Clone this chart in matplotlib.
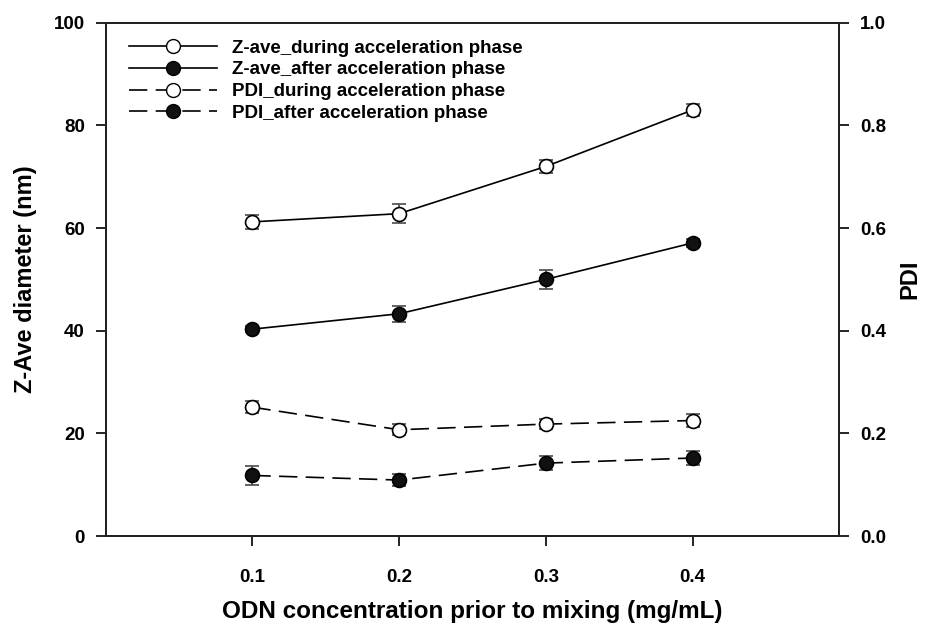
import matplotlib
matplotlib.use("Agg")
import matplotlib.pyplot as plt
from matplotlib.lines import Line2D

plt.rcParams['font.family'] = ['Liberation Sans', 'DejaVu Sans']
plt.rcParams['font.weight'] = 'bold'

# ODN concentration prior to mixing (mg/mL)
conc = [0.1, 0.2, 0.3, 0.4]

# Z-average diameter (nm)
zave_during = [61.2, 62.8, 72.0, 83.0]
zave_during_err = [1.4, 1.9, 1.3, 1.1]
zave_after = [40.3, 43.3, 50.0, 57.1]
zave_after_err = [0.6, 1.6, 1.9, 0.7]

# Polydispersity index
pdi_during = [0.251, 0.207, 0.218, 0.225]
pdi_during_err = [0.012, 0.011, 0.010, 0.013]
pdi_after = [0.118, 0.109, 0.142, 0.152]
pdi_after_err = [0.019, 0.011, 0.014, 0.013]

labels = ["Z-ave_during acceleration phase",
          "Z-ave_after acceleration phase",
          "PDI_during acceleration phase",
          "PDI_after acceleration phase"]

fig = plt.figure(figsize=(9.27, 6.24), dpi=100)
ax = fig.add_axes([0.114, 0.141, 0.7914, 0.8226])
ax2 = ax.twinx()

err_kw = dict(ecolor='#4a4a4a', elinewidth=1.2, capsize=5, capthick=1.8)
line_kw = dict(color='black', lw=1.2, marker='o', ms=10, mec='black', mew=1.2)
dash = (0, (11, 5))

ax.errorbar(conc, zave_during, yerr=zave_during_err, mfc='white', **line_kw, **err_kw, zorder=3)
ax.errorbar(conc, zave_after, yerr=zave_after_err, mfc='#111111', **line_kw, **err_kw, zorder=3)
ax2.errorbar(conc, pdi_during, yerr=pdi_during_err, mfc='white', ls=dash, **line_kw, **err_kw, zorder=3)
ax2.errorbar(conc, pdi_after, yerr=pdi_after_err, mfc='#111111', ls=dash, **line_kw, **err_kw, zorder=3)

ax.set_xlim(0, 0.5)
ax.set_ylim(0, 100)
ax2.set_ylim(0, 1.0)
ax.set_xticks(conc)
ax.set_xticklabels(["0.1", "0.2", "0.3", "0.4"])
ax.set_yticks([0, 20, 40, 60, 80, 100])
ax2.set_yticks([0.0, 0.2, 0.4, 0.6, 0.8, 1.0])
ax2.set_yticklabels(["0.0", "0.2", "0.4", "0.6", "0.8", "1.0"])

for a in (ax, ax2):
    for s in a.spines.values():
        s.set_linewidth(1.4)
        s.set_color('#222222')

ax.tick_params(axis='x', direction='out', length=7, width=1.2, pad=17, labelsize=13.5)
ax.tick_params(axis='y', direction='out', length=7, width=1.2, pad=8, labelsize=13.5)
ax2.tick_params(axis='y', direction='out', length=7, width=1.2, pad=8, labelsize=13.5)

ax.set_xlabel("ODN concentration prior to mixing (mg/mL)", fontsize=17.5, fontweight='bold', labelpad=10)
ax.set_ylabel("Z-Ave diameter (nm)", fontsize=17, fontweight='bold', labelpad=12)
ax2.set_ylabel("PDI", fontsize=17, fontweight='bold', labelpad=9)

handles = [
    Line2D([], [], color='black', lw=1.2, marker='o', ms=10, mfc='white', mec='black'),
    Line2D([], [], color='black', lw=1.2, marker='o', ms=10, mfc='#111111', mec='black'),
    Line2D([], [], color='black', lw=1.2, ls=(0, (11, 5)), marker='o', ms=10, mfc='white', mec='black'),
    Line2D([], [], color='black', lw=1.2, ls=(0, (11, 5)), marker='o', ms=10, mfc='#111111', mec='black'),
]
leg = ax2.legend(handles, labels, loc='upper left', bbox_to_anchor=(0.022, 0.982),
                 frameon=False, fontsize=13.5, handlelength=4.7, handletextpad=0.8,
                 labelspacing=0.25, borderaxespad=0)
for t in leg.get_texts():
    t.set_fontweight('bold')

fig.savefig("out.png", dpi=100, facecolor='white')
